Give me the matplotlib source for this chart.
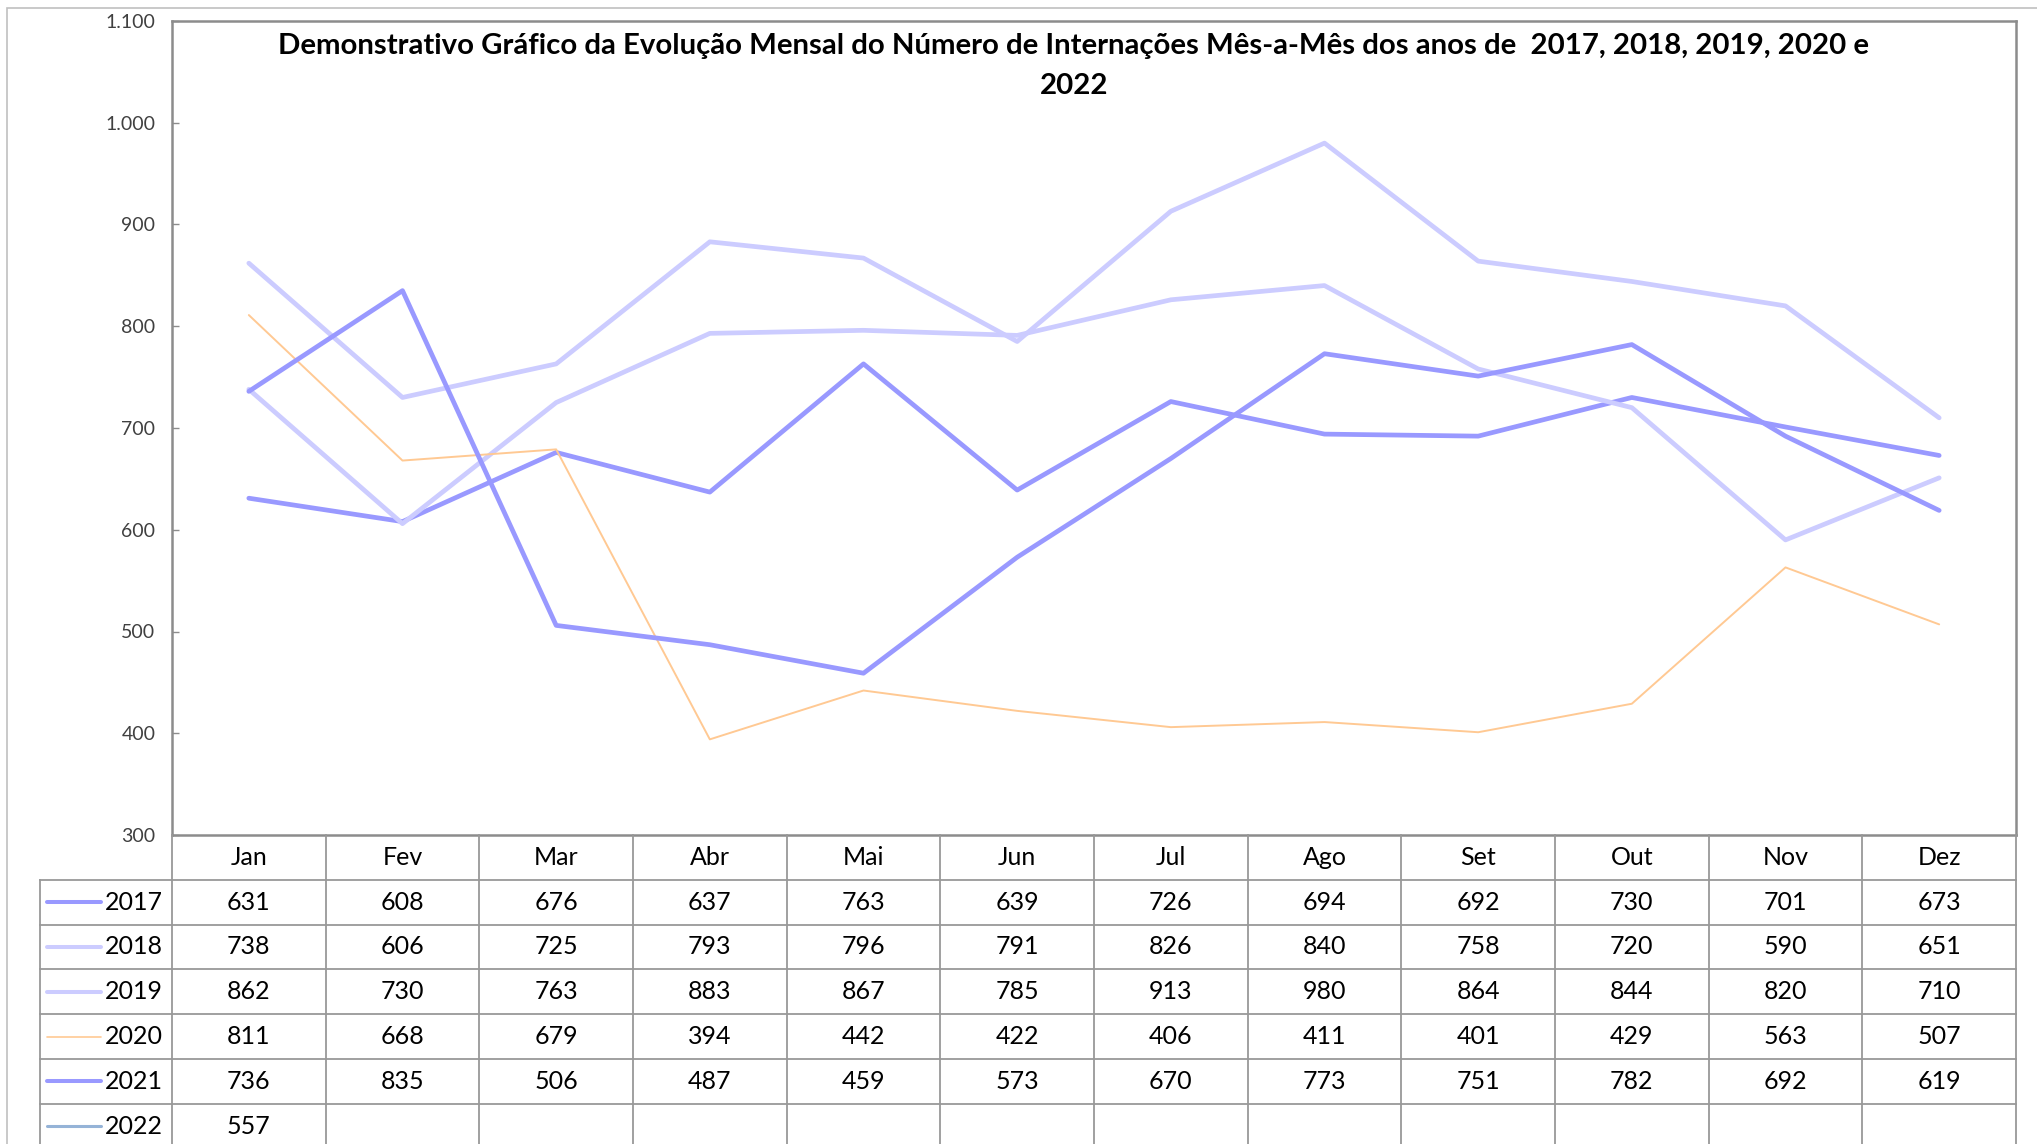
import matplotlib
matplotlib.use("Agg")
import matplotlib.pyplot as plt
from matplotlib.lines import Line2D
from matplotlib.patches import Rectangle

months = ["Jan", "Fev", "Mar", "Abr", "Mai", "Jun", "Jul", "Ago", "Set", "Out", "Nov", "Dez"]
years = ["2017", "2018", "2019", "2020", "2021", "2022"]
v2017 = [631, 608, 676, 637, 763, 639, 726, 694, 692, 730, 701, 673]
v2018 = [738, 606, 725, 793, 796, 791, 826, 840, 758, 720, 590, 651]
v2019 = [862, 730, 763, 883, 867, 785, 913, 980, 864, 844, 820, 710]
v2020 = [811, 668, 679, 394, 442, 422, 406, 411, 401, 429, 563, 507]
v2021 = [736, 835, 506, 487, 459, 573, 670, 773, 751, 782, 692, 619]
v2022 = [557]
series = [v2017, v2018, v2019, v2020, v2021, v2022]
colors = ["#9999FF", "#CCCCFF", "#CCCCFF", "#FFC993", "#9999FF", "#95B3D7"]
widths = [3.4, 3.4, 3.4, 1.4, 3.4, 2.6]
yticks = [300, 400, 500, 600, 700, 800, 900, 1000, 1100]
title = ("Demonstrativo Gráfico da Evolução Mensal do Número de Internações Mês-a-Mês dos anos de  2017, 2018, 2019, 2020 e\n2022")

FONT = "Lato"
W, H = 2037, 1144
fig = plt.figure(figsize=(W / 100, H / 100), dpi=100)

def fx(x):
    return x / W

def fy(y):
    return 1 - y / H

# plot area (pixels)
L, R, T, B = 172, 2016, 21, 835
ax = fig.add_axes([fx(L), fy(B), fx(R) - fx(L), fy(T) - fy(B)])
ax.set_xlim(-0.5, len(months) - 0.5)
ax.set_ylim(300, 1100)
for s, c, w in zip(series, colors, widths):
    ax.plot(range(len(s)), s, color=c, lw=w, solid_capstyle="round", solid_joinstyle="round")
ax.set_xticks([])
ax.set_yticks(yticks)
ax.set_yticklabels([f"{v:,}".replace(",", ".") for v in yticks],
                   fontfamily=FONT, fontsize=14, color="#404040")
ax.tick_params(axis="y", direction="in", length=5, width=1, color="#8c8c8c", pad=12)
for sp in ax.spines.values():
    sp.set_color("#8c8c8c")
    sp.set_linewidth(1.8)

# outer chart border
fig.patches.append(Rectangle((fx(7), fy(1160)), fx(2100) - fx(7), fy(8) - fy(1160),
                             transform=fig.transFigure, fill=False, ec="#c0c0c0", lw=1.2))

# title
fig.text(fx(1074), fy(66), title, ha="center", va="center", fontfamily=FONT,
         fontweight="bold", fontsize=21.2, linespacing=1.65)

# data table
colw = (R - L) / len(months)
rowh = 44.8
header_top = B
header_bot = B + rowh
leg_left = 40
gc = "#999999"
glw = 1.3
TS = 18

def hline(x0, x1, y):
    fig.add_artist(Line2D([fx(x0), fx(x1)], [fy(y), fy(y)], color=gc, lw=glw))

def vline(x, y0, y1):
    fig.add_artist(Line2D([fx(x), fx(x)], [fy(y0), fy(y1)], color=gc, lw=glw))

n_rows = len(years)
table_bot = header_bot + n_rows * rowh
# header
for i, m in enumerate(months):
    cx = L + (i + 0.5) * colw
    fig.text(fx(cx), fy((header_top + header_bot) / 2), m, ha="center", va="center",
             fontfamily=FONT, fontsize=TS)
for i in range(len(months) + 1):
    vline(L + i * colw, header_top, table_bot)
vline(leg_left, header_bot, table_bot)
for r in range(n_rows + 1):
    hline(leg_left, R, header_bot + r * rowh)

for r, (yr, s, c, w) in enumerate(zip(years, series, colors, widths)):
    cy = header_bot + (r + 0.5) * rowh
    fig.add_artist(Line2D([fx(47), fx(101)], [fy(cy), fy(cy)], color=c, lw=w * 0.85,
                          solid_capstyle="round"))
    fig.text(fx(105), fy(cy), yr, ha="left", va="center", fontfamily=FONT, fontsize=TS)
    for i, v in enumerate(s):
        cx = L + (i + 0.5) * colw
        fig.text(fx(cx), fy(cy), str(v), ha="center", va="center",
                 fontfamily=FONT, fontsize=TS)

fig.savefig("out.png", dpi=100, facecolor="white")
